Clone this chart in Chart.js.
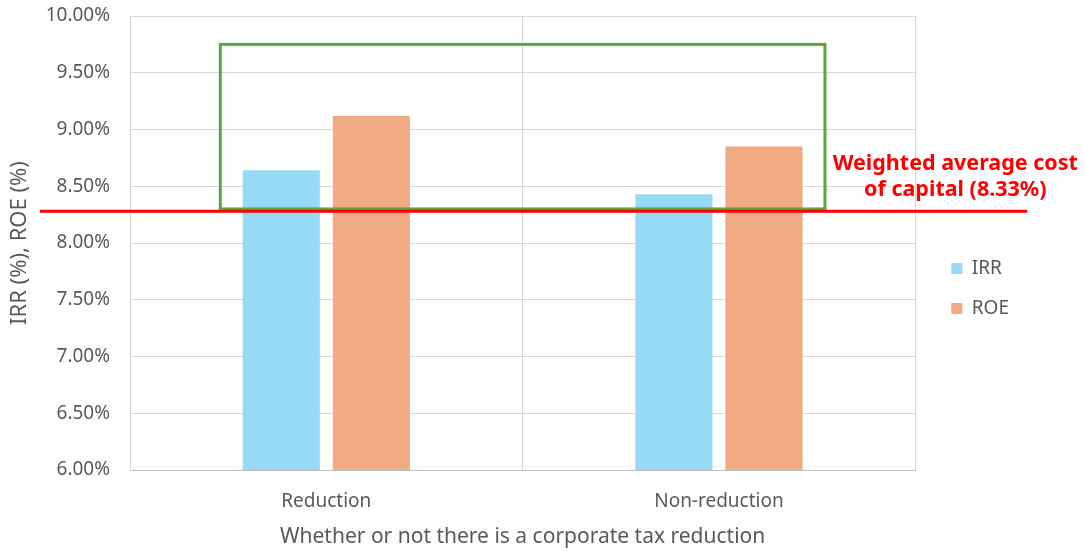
<!DOCTYPE html>
<html>
<head>
<meta charset="utf-8">
<script src="https://cdn.jsdelivr.net/npm/chart.js@4.4.1/dist/chart.umd.min.js"></script>
<style>
  html, body { margin: 0; padding: 0; background: #ffffff; }
  #wrap { width: 1085px; height: 551px; }
</style>
</head>
<body>
<div id="wrap"><canvas id="irrChart" width="1085" height="551"></canvas></div>
<script>
// chart data
const categories = ["Reduction", "Non-reduction"];
const irrValues = [8.64, 8.43];
const roeValues = [9.12, 8.85];
const yTicks = [6.0, 6.5, 7.0, 7.5, 8.0, 8.5, 9.0, 9.5, 10.0];

// WACC marker (drawn line sits a bit under the labelled value)
const waccLine = 8.28;
const waccLabel = ["Weighted average cost", "of capital (8.33%)"];
// green highlight box, in category units and percent
const boxCategorySpan = [-0.27, 1.27];
const boxValueSpan = [8.3, 9.75];

const textGray = "#595959";
const fontFamily = '"Noto Sans", "DejaVu Sans", sans-serif';

// Red WACC line, label and the green box
const waccPlugin = {
  id: "waccAnnotation",
  afterDraw(chart) {
    const { ctx, chartArea, scales } = chart;
    const x = scales.x;
    const y = scales.y;

    ctx.save();
    // green box
    const left = x.getPixelForValue(boxCategorySpan[0]);
    const right = x.getPixelForValue(boxCategorySpan[1]);
    const top = y.getPixelForValue(boxValueSpan[1]);
    const bottom = y.getPixelForValue(boxValueSpan[0]);
    ctx.strokeStyle = "#5AA83A";
    ctx.lineWidth = 3;
    ctx.strokeRect(left, top, right - left, bottom - top);

    // red line
    const lineY = y.getPixelForValue(waccLine);
    ctx.strokeStyle = "#FF0000";
    ctx.lineWidth = 3;
    ctx.beginPath();
    ctx.moveTo(chartArea.left - 90, lineY);
    ctx.lineTo(chartArea.right + 112, lineY);
    ctx.stroke();

    // label
    ctx.fillStyle = "#FF0000";
    ctx.font = "bold 21.5px " + fontFamily;
    ctx.textAlign = "center";
    ctx.textBaseline = "middle";
    ctx.fillText(waccLabel[0], chartArea.right + 40, lineY - 47);
    ctx.fillText(waccLabel[1], chartArea.right + 40, lineY - 21);
    ctx.restore();
  },
};

function initChart() {
  const ctx = document.getElementById("irrChart").getContext("2d");

  new Chart(ctx, {
    type: "bar",
    data: {
      labels: categories,
      datasets: [
        {
          label: "IRR",
          data: irrValues,
          backgroundColor: "#97DAF6",
          borderWidth: 0,
          categoryPercentage: 0.459,
          barPercentage: 0.856,
        },
        {
          label: "ROE",
          data: roeValues,
          backgroundColor: "#F0AA84",
          borderWidth: 0,
          categoryPercentage: 0.459,
          barPercentage: 0.856,
        },
      ],
    },
    options: {
      responsive: false,
      animation: false,
      layout: {
        padding: { top: 16, left: 0, right: 66, bottom: 0 },
      },
      plugins: {
        tooltip: { enabled: false },
        legend: {
          position: "right",
          title: { display: true, text: "", font: { size: 1 }, padding: { top: 9, bottom: 0 } },
          labels: {
            boxWidth: 11,
            boxHeight: 11,
            padding: 21,
            color: textGray,
            font: { family: fontFamily, size: 19 },
          },
        },
      },
      scales: {
        x: {
          grid: { color: "#D9D9D9", drawTicks: false },
          border: { color: "#BFBFBF", width: 1 },
          ticks: {
            color: textGray,
            padding: 20,
            font: { family: fontFamily, size: 19 },
          },
          title: {
            display: true,
            text: "Whether or not there is a corporate tax reduction",
            color: textGray,
            font: { family: fontFamily, size: 21 },
            padding: { top: 0, bottom: 1 },
          },
          afterFit(scale) {
            scale.height = 81;
          },
        },
        y: {
          min: yTicks[0],
          max: yTicks[yTicks.length - 1],
          grid: { color: "#D9D9D9", drawTicks: false },
          border: { color: "#D9D9D9" },
          afterBuildTicks(scale) {
            scale.ticks = yTicks.map((v) => ({ value: v }));
          },
          ticks: {
            color: textGray,
            padding: 20,
            font: { family: fontFamily, size: 19 },
            callback: (v) => Number(v).toFixed(2) + "%",
          },
          title: {
            display: true,
            text: "IRR (%), ROE (%)",
            color: textGray,
            font: { family: fontFamily, size: 22 },
            padding: { top: 7, bottom: 0 },
          },
          afterFit(scale) {
            scale.width = 130;
            // label overhang fits inside the layout padding
            scale.paddingTop = 0;
            scale.paddingBottom = 0;
          },
        },
        // empty spacer between plot and legend
        gap: {
          type: "linear",
          position: "right",
          grid: { display: false },
          border: { display: false },
          ticks: { display: false },
          afterFit(scale) {
            scale.width = 15;
          },
        },
      },
    },
    plugins: [waccPlugin],
  });
}

document.addEventListener("DOMContentLoaded", initChart);
</script>
</body>
</html>
